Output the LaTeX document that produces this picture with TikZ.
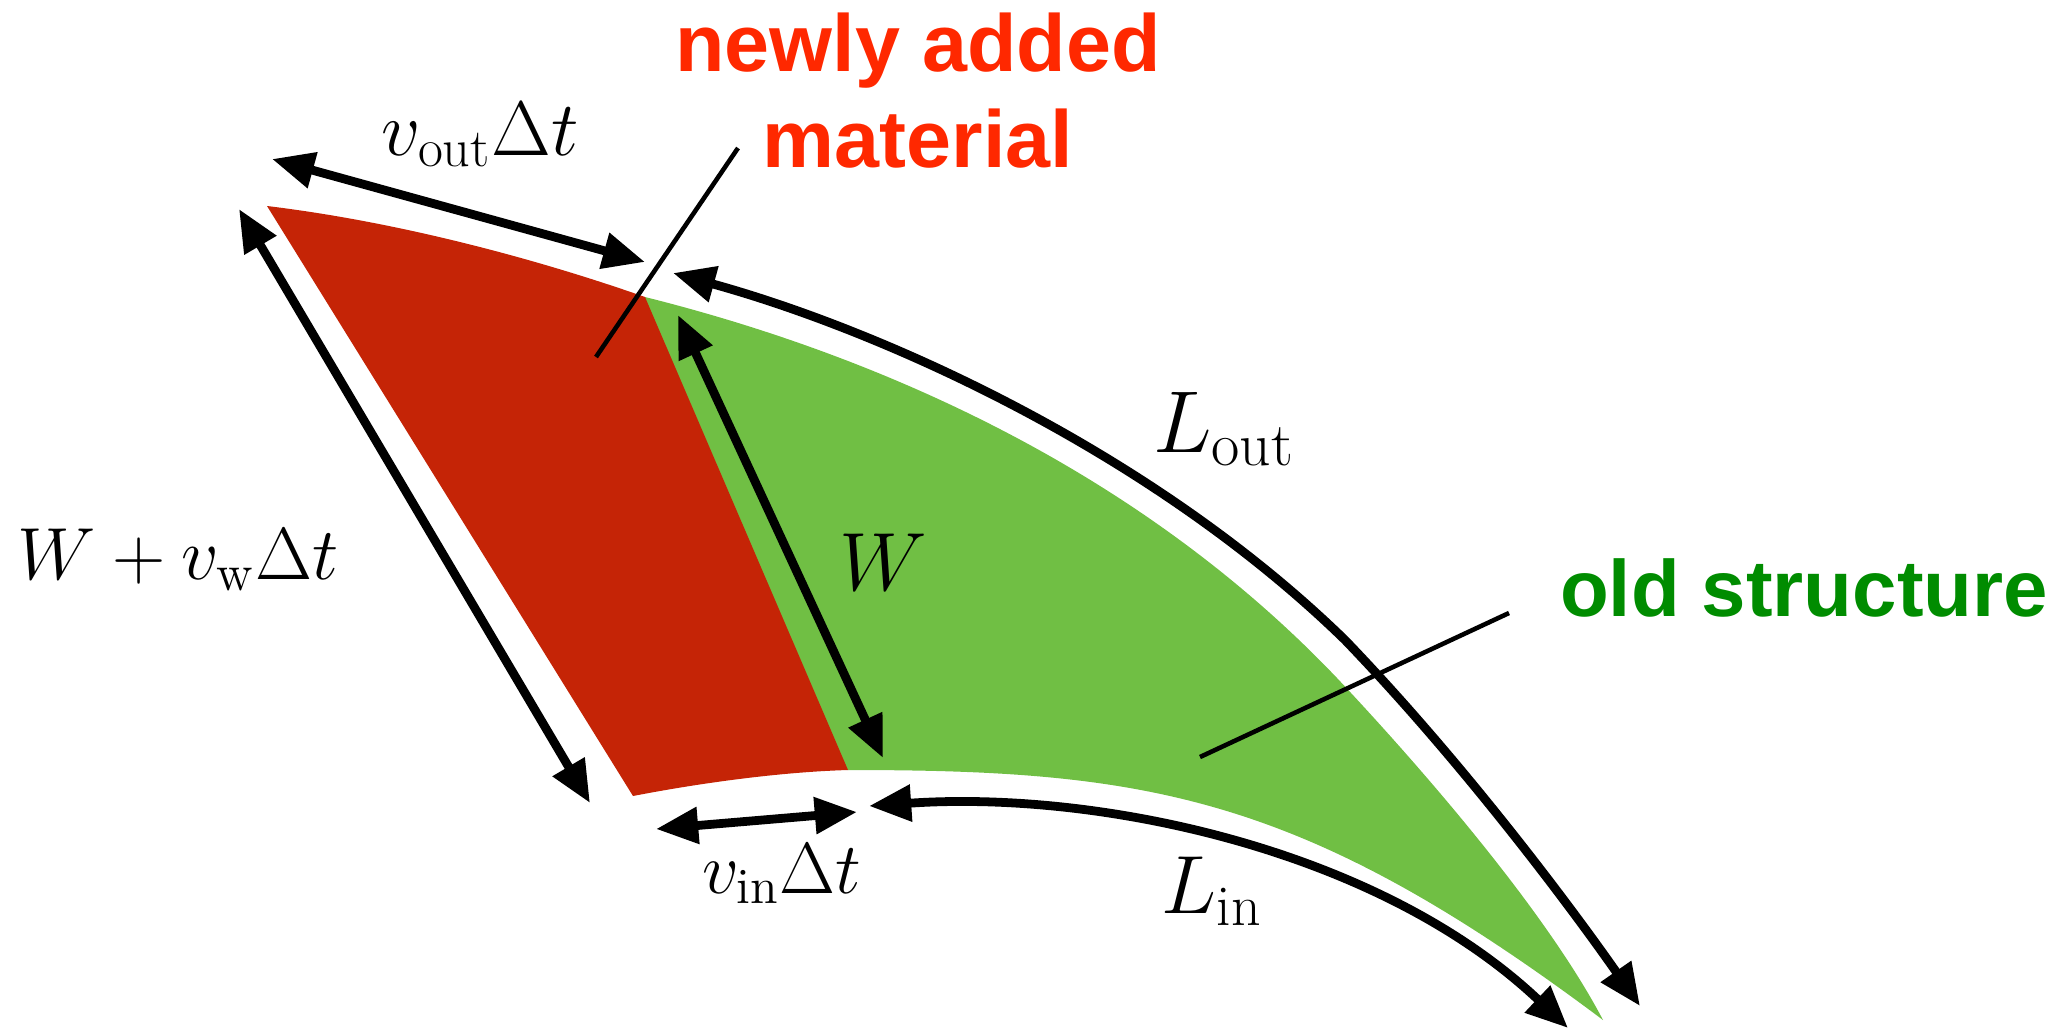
\RequirePackage{fix-cm}
\documentclass[tikz,border=0pt]{standalone}
\usepackage{fontspec}
\newfontfamily\lblfont{Liberation Sans}
\usetikzlibrary{arrows.meta}
\definecolor{redfill}{RGB}{197,36,6}
\definecolor{redtext}{RGB}{255,40,0}
\definecolor{greenfill}{RGB}{112,191,68}
\definecolor{greentext}{RGB}{0,140,0}
\begin{document}
\begin{tikzpicture}[x=0.01cm,y=-0.01cm,
  dim/.style={line width=2.5pt,{Triangle[length=12pt,width=10pt]}-{Triangle[length=12pt,width=10pt]}},
  pointer/.style={line width=1.3pt},
  mathlbl/.style={anchor=base,inner sep=0pt},
  sanslbl/.style={anchor=base,inner sep=0pt,font=\lblfont\bfseries\fontsize{23}{27}\selectfont}]
\path[use as bounding box] (0,0) rectangle (2067,1030);
% shape corners
\coordinate (A) at (267,206);
\coordinate (B) at (645,297);
\coordinate (C) at (848,770);
\coordinate (D) at (633,796);
\coordinate (K) at (1337,678);
\coordinate (T) at (1603,1020);
% old structure (green)
\fill[greenfill] (B) .. controls (855,349.5) and (1127,457.5) .. (K)
  .. controls (1400,745) and (1540,900) .. (T)
  .. controls (1303,795) and (1148,770) .. (C) -- (840,767) -- (637,300) -- cycle;
% newly added material (red)
\fill[redfill] (A) .. controls (400,222) and (540,260) .. (B) -- (C)
  .. controls (780,772) and (700,783) .. (D) -- cycle;
% pointer lines
\coordinate (pnA) at (738,148);
\coordinate (pnB) at (596,357);
\coordinate (poA) at (1509,613);
\coordinate (poB) at (1200,757);
\draw[pointer] (pnA) -- (pnB);
\draw[pointer] (poA) -- (poB);
% dimension arrows
\coordinate (voA) at (272,159);
\coordinate (voB) at (645,262);
\coordinate (wvA) at (239,209);
\coordinate (wvB) at (590,803);
\coordinate (wA) at (678,315);
\coordinate (wB) at (883,758);
\coordinate (viA) at (656,829);
\coordinate (viB) at (857,812);
\coordinate (loA) at (673,273);
\coordinate (loM) at (1345,640);
\coordinate (loB) at (1640,1006);
\coordinate (liA) at (869,806);
\coordinate (liB) at (1568,1028);
\draw[dim] (voA) -- (voB);
\draw[dim] (wvA) -- (wvB);
\draw[dim] (wA) -- (wB);
\draw[dim] (viA) -- (viB);
\draw[dim] (loA) .. controls (880,330) and (1150,450) .. (loM)
  .. controls (1470,770) and (1580,920) .. (loB);
\draw[dim] (liA) .. controls (1100,790) and (1380,850) .. (liB);
% math labels
\node[mathlbl,font=\fontsize{22}{26}\selectfont] (lvout) at (480,155) {$v_{\mathrm{out}}\Delta t$};
\node[mathlbl,font=\fontsize{20.6}{24}\selectfont] (lvin) at (782,893) {$v_{\mathrm{in}}\Delta t$};
\node[mathlbl,font=\fontsize{21}{25}\selectfont] (lwv) at (178,579) {$W+v_{\mathrm{w}}\Delta t$};
\node[mathlbl,font=\fontsize{23.5}{27}\selectfont] (lw) at (883,590) {$W$};
\node[mathlbl,font=\fontsize{25}{29}\selectfont] (llout) at (1224,452) {$L_{\mathrm{out}}$};
\node[mathlbl,font=\fontsize{23.5}{27}\selectfont] (llin) at (1212,913) {$L_{\mathrm{in}}$};
% text labels
\node[sanslbl,text=redtext] (lnew) at (918,71) {newly added};
\node[sanslbl,text=redtext] (lmat) at (918,167) {material};
\node[sanslbl,text=greentext,font=\lblfont\bfseries\fontsize{22.7}{27}\selectfont] (lold) at (1804,616) {old structure};
\end{tikzpicture}
\end{document}
